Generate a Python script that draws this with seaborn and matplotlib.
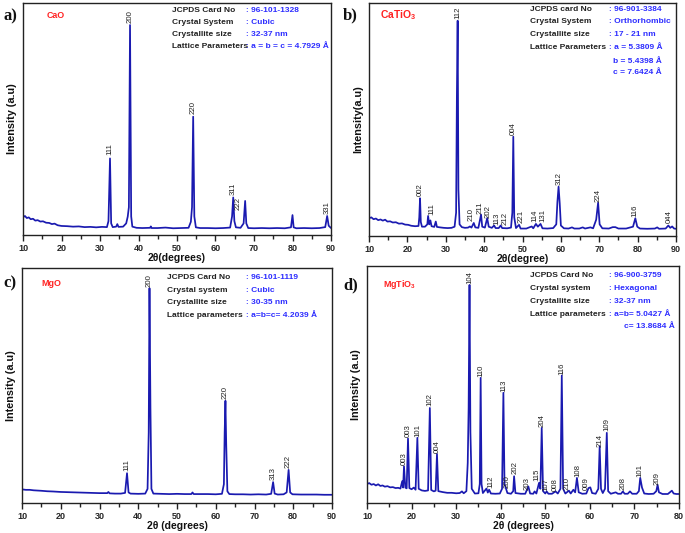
import matplotlib
matplotlib.use('Agg')
import matplotlib.pyplot as plt
import seaborn as sns
import pandas as pd
from matplotlib.ticker import MultipleLocator

sns.set_theme(style='ticks')
plt.rcParams['font.family'] = ['Liberation Sans', 'DejaVu Sans']
plt.rcParams['mathtext.fontset'] = 'custom'
plt.rcParams['mathtext.rm'] = 'Liberation Sans'
plt.rcParams['mathtext.bf'] = 'Liberation Sans:bold'

# XRD traces: (2theta, intensity in % of axis height)
cao_trace = [
    (10.0, 7.6), (10.5, 8.2), (11.0, 7.3), (11.5, 7.6), (12.0, 6.8), (12.6, 7.0), (13.2, 6.2),
    (13.8, 6.4), (14.5, 5.8), (15.2, 5.9), (16.0, 5.3), (16.8, 5.2), (17.5, 4.7), (18.2, 4.9),
    (19.0, 4.2), (20.0, 3.9), (21.5, 3.8), (23.0, 3.6), (24.5, 3.7), (26.0, 3.4), (27.5, 3.5),
    (29.0, 3.3), (30.5, 3.5), (31.8, 3.4), (32.2, 6.0), (32.6, 33.0), (32.9, 5.0), (33.3, 3.4),
    (34.2, 3.6), (34.5, 4.7), (34.8, 3.5), (36.0, 3.6), (36.8, 5.0), (37.2, 7.9), (37.5, 12.0),
    (37.8, 90.5), (38.1, 8.0), (38.4, 3.6), (39.5, 3.1), (41.0, 3.0), (43.0, 3.1), (43.2, 3.7),
    (43.4, 3.0), (45.0, 3.0), (47.0, 3.2), (49.0, 2.9), (51.0, 3.0), (53.0, 3.1), (53.6, 5.7),
    (53.9, 12.0), (54.2, 51.0), (54.5, 8.0), (54.9, 3.3), (56.0, 3.0), (58.0, 3.0), (60.0, 2.9),
    (62.0, 3.0), (63.8, 3.2), (64.3, 8.0), (64.6, 16.2), (64.9, 6.0), (65.3, 3.3), (66.5, 3.1),
    (67.3, 5.0), (67.7, 14.7), (68.0, 5.0), (68.5, 3.0), (70.0, 2.9), (72.0, 3.0), (74.0, 2.9),
    (76.0, 3.0), (78.0, 2.9), (79.6, 3.3), (80.0, 8.6), (80.3, 3.3), (81.0, 2.9), (83.0, 3.0),
    (85.0, 2.9), (87.0, 3.0), (88.5, 3.4), (89.0, 8.2), (89.4, 4.0), (90.0, 3.0),
]
catio3_trace = [
    (10.0, 7.6), (10.6, 8.0), (11.2, 7.2), (11.8, 7.5), (12.4, 6.8), (13.0, 7.1), (13.6, 6.6),
    (14.2, 7.0), (14.8, 6.2), (15.5, 6.3), (16.2, 5.8), (17.0, 5.9), (17.8, 5.3), (18.6, 5.4),
    (19.4, 4.9), (20.2, 4.8), (21.0, 4.4), (22.0, 4.2), (22.9, 4.3), (23.1, 8.0), (23.3, 16.2),
    (23.5, 6.0), (23.8, 4.0), (24.6, 4.0), (25.2, 5.0), (25.4, 8.6), (25.7, 5.0), (26.0, 6.7),
    (26.3, 4.2), (27.0, 3.9), (27.4, 6.2), (27.7, 3.9), (28.5, 3.7), (29.5, 3.5), (30.5, 3.4),
    (31.5, 3.5), (32.3, 4.0), (32.7, 10.0), (32.9, 60.0), (33.1, 92.4), (33.3, 20.0), (33.6, 5.0),
    (34.2, 3.8), (35.0, 3.5), (35.8, 3.6), (36.3, 4.1), (36.7, 3.6), (37.3, 5.6), (37.7, 3.7),
    (38.5, 3.5), (39.2, 9.2), (39.5, 4.0), (40.2, 3.6), (40.8, 7.7), (41.2, 4.0), (42.0, 3.5),
    (42.6, 4.5), (43.0, 3.4), (43.8, 3.4), (44.3, 4.5), (44.7, 3.4), (46.0, 3.3), (47.0, 3.6),
    (47.35, 10.0), (47.6, 42.6), (47.85, 8.0), (48.3, 3.4), (49.1, 4.8), (49.5, 3.2), (51.0, 3.2),
    (52.4, 4.1), (52.8, 3.3), (53.5, 5.2), (54.0, 4.0), (54.7, 5.2), (55.2, 3.3), (56.5, 3.2),
    (58.0, 3.4), (58.8, 5.0), (59.1, 14.7), (59.4, 21.2), (59.7, 14.0), (60.0, 4.5), (60.8, 3.3),
    (62.0, 3.2), (62.9, 3.7), (63.5, 3.2), (64.8, 3.2), (65.7, 3.7), (66.3, 3.2), (67.7, 3.7),
    (68.4, 3.3), (69.2, 7.0), (69.7, 14.3), (70.1, 5.0), (70.8, 3.3), (72.5, 3.2), (73.5, 3.8),
    (74.2, 3.8), (75.0, 3.2), (77.0, 3.2), (78.8, 4.0), (79.4, 7.6), (79.9, 4.0), (80.6, 3.2),
    (82.5, 3.1), (84.5, 3.2), (85.1, 3.7), (85.6, 3.1), (87.3, 3.2), (88.0, 4.5), (88.5, 3.5),
    (89.0, 4.1), (89.5, 3.2), (90.0, 3.1),
]
mgo_trace = [
    (10.0, 5.8), (11.0, 5.6), (12.0, 5.6), (13.0, 5.4), (14.0, 5.3), (15.0, 5.2), (16.5, 5.0),
    (18.0, 4.9), (20.0, 4.7), (22.0, 4.6), (24.0, 4.5), (26.0, 4.4), (28.0, 4.3), (30.0, 4.2),
    (32.0, 4.2), (32.3, 4.7), (32.6, 4.1), (34.0, 4.0), (35.5, 4.0), (36.6, 4.3), (37.1, 12.7),
    (37.5, 4.5), (38.0, 4.0), (40.0, 3.9), (41.8, 4.0), (42.4, 6.0), (42.7, 30.0), (42.9, 91.4),
    (43.15, 40.0), (43.4, 6.0), (43.9, 4.0), (46.0, 3.9), (48.0, 3.8), (50.0, 3.9), (52.0, 3.8),
    (53.7, 3.8), (54.0, 4.5), (54.3, 3.8), (56.0, 3.8), (58.0, 3.8), (60.0, 3.7), (61.6, 3.9),
    (62.1, 8.0), (62.3, 30.0), (62.5, 43.5), (62.7, 25.0), (63.0, 5.0), (63.5, 3.8), (65.0, 3.7),
    (67.0, 3.7), (69.0, 3.6), (71.0, 3.7), (73.0, 3.6), (74.3, 3.9), (74.8, 8.9), (75.2, 4.0),
    (76.0, 3.6), (77.5, 3.7), (78.3, 4.5), (78.8, 14.1), (79.2, 4.5), (79.8, 3.7), (82.0, 3.6),
    (84.0, 3.6), (86.0, 3.6), (88.0, 3.5), (90.0, 3.5),
]
mgtio3_trace = [
    (10.0, 8.0), (10.5, 8.4), (11.0, 7.7), (11.5, 8.0), (12.0, 7.4), (12.5, 7.9), (13.0, 7.2),
    (13.5, 7.4), (14.0, 6.9), (14.6, 7.1), (15.2, 6.6), (15.8, 6.7), (16.4, 6.3), (17.0, 6.4),
    (17.5, 6.1), (17.9, 9.2), (18.1, 6.5), (18.3, 15.5), (18.6, 6.5), (18.9, 6.2), (19.2, 27.2),
    (19.5, 6.3), (20.0, 5.8), (20.5, 6.5), (20.9, 5.6), (21.3, 27.5), (21.6, 6.0), (22.3, 5.3),
    (23.0, 5.1), (23.7, 5.3), (24.1, 40.1), (24.4, 5.5), (25.0, 4.9), (25.4, 5.2), (25.7, 20.7),
    (26.0, 5.0), (27.0, 4.6), (28.0, 4.3), (29.0, 4.3), (30.0, 4.1), (30.8, 4.2), (31.3, 4.9),
    (31.7, 4.1), (32.3, 5.0), (32.6, 16.9), (32.8, 40.0), (33.0, 92.0), (33.2, 30.0), (33.5, 6.0),
    (34.2, 4.0), (35.0, 4.1), (35.3, 8.0), (35.5, 52.8), (35.7, 8.0), (36.0, 4.2), (36.8, 6.1),
    (37.1, 4.4), (37.4, 5.6), (37.8, 4.0), (38.8, 3.9), (39.8, 4.0), (40.3, 6.0), (40.6, 46.5),
    (40.85, 8.0), (41.1, 6.6), (41.5, 4.2), (42.3, 3.9), (42.8, 5.0), (43.0, 11.3), (43.3, 4.2),
    (44.5, 3.9), (45.5, 3.9), (46.2, 7.0), (46.6, 4.0), (47.3, 3.9), (47.6, 4.9), (48.0, 4.0),
    (48.6, 8.5), (48.9, 6.0), (49.2, 31.7), (49.5, 5.0), (50.0, 4.0), (50.3, 4.9), (50.7, 3.9),
    (51.5, 3.9), (52.3, 4.9), (52.8, 4.0), (53.4, 6.0), (53.7, 53.8), (54.0, 6.0), (54.5, 4.0),
    (55.3, 5.2), (55.7, 4.0), (56.3, 5.6), (56.7, 4.5), (57.1, 10.6), (57.5, 4.5), (58.3, 3.9),
    (59.2, 4.0), (59.7, 6.3), (60.1, 6.6), (60.5, 4.2), (61.3, 3.9), (61.9, 6.0), (62.2, 24.0),
    (62.5, 6.0), (62.9, 4.2), (63.4, 6.0), (63.8, 29.6), (64.1, 5.0), (64.7, 3.9), (65.8, 4.5),
    (66.3, 3.9), (67.0, 3.9), (67.4, 4.9), (67.8, 3.9), (68.5, 3.9), (69.0, 4.9), (69.5, 3.9),
    (70.5, 3.9), (71.0, 5.0), (71.3, 10.6), (71.7, 6.5), (72.2, 4.0), (73.2, 3.8), (74.3, 3.9),
    (74.9, 5.0), (75.2, 7.7), (75.5, 4.5), (76.3, 3.8), (77.5, 3.8), (78.4, 5.2), (78.8, 4.0),
    (79.4, 3.8), (80.0, 3.8),
]

# hkl labels: text, 2theta where it sits, intensity of its lower end
cao_hkl = ['111', '200', '220', '311', '222', '331']
cao_hkl_x = [32.6, 37.8, 54.2, 64.6, 65.9, 89.0]
cao_hkl_y = [34.5, 91.5, 52.0, 17.3, 10.8, 9.0]

catio3_hkl = ['002', '111', '112', '210', '211', '202', '113', '212', '004', '221',
              '114', '131', '312', '224', '116', '044']
catio3_hkl_x = [23.3, 26.4, 33.1, 36.6, 38.85, 41.1, 43.35, 45.6, 47.6, 49.6,
                53.1, 55.4, 59.6, 69.7, 79.4, 88.3]
catio3_hkl_y = [17.0, 9.0, 93.0, 6.3, 9.4, 7.9, 4.6, 4.6, 43.3, 5.6,
                5.9, 5.9, 21.9, 14.8, 8.3, 5.4]

mgo_hkl = ['111', '200', '220', '313', '222']
mgo_hkl_x = [37.1, 42.9, 62.5, 74.8, 78.8]
mgo_hkl_y = [13.7, 92.0, 44.3, 9.6, 15.1]

mgtio3_hkl = ['003', '003', '101', '102', '004', '104', '110', '112', '113', '200',
              '202', '203', '115', '204', '107', '008', '116', '210', '108', '009',
              '214', '109', '208', '101', '209']
mgtio3_hkl_x = [18.3, 19.2, 21.4, 24.0, 25.7, 33.0, 35.5, 37.7, 40.6, 41.4,
                43.3, 45.9, 48.1, 49.2, 50.2, 52.3, 53.7, 55.0, 57.2, 59.3,
                62.2, 63.8, 67.4, 71.3, 75.1]
mgtio3_hkl_y = [16.0, 27.7, 28.0, 40.8, 21.2, 92.3, 53.3, 6.3, 46.9, 6.2,
                12.4, 5.4, 9.4, 32.0, 4.9, 4.9, 54.2, 5.4, 11.0, 5.4,
                23.5, 30.3, 5.4, 10.8, 7.7]

# info boxes
cao_info = ['JCPDS Card No', 'Crystal System', 'Crystallite size', 'Lattice Parameters']
cao_vals = [': 96-101-1328', ': Cubic', ': 32-37 nm', ': a = b = c = 4.7929 Å']
catio3_info = ['JCPDS card No', 'Crystal System', 'Crystallite size', 'Lattice Parameters']
catio3_vals = [': 96-901-3384', ': Orthorhombic', ': 17 - 21 nm', ': a = 5.3809 Å']
catio3_extra = ['b = 5.4398 Å', 'c = 7.6424 Å']
mgo_info = ['JCPDS Card No', 'Crystal system', 'Crystallite size', 'Lattice parameters']
mgo_vals = [': 96-101-1119', ': Cubic', ': 30-35 nm', ': a=b=c= 4.2039 Å']
mgtio3_info = ['JCPDS Card No', 'Crystal system', 'Crystallite size', 'Lattice parameters']
mgtio3_vals = [': 96-900-3759', ': Hexagonal', ': 32-37 nm', ': a=b= 5.0427 Å']
mgtio3_extra = ['c= 13.8684 Å']

LINE = '#1a1ab0'
VAL = '#2d2dff'
LAB = '#222222'

W, H = 685, 533
fig = plt.figure(figsize=(W / 100, H / 100), dpi=100)


def make_ax(left, top, right, bottom):
    return fig.add_axes([left / W, 1 - bottom / H, (right - left) / W, (bottom - top) / H])


def draw(ax, trace, hkl, hx, hy, xmax, xlabel, ylabel):
    df = pd.DataFrame(trace, columns=['two_theta', 'intensity'])
    sns.lineplot(data=df, x='two_theta', y='intensity', ax=ax, color=LINE,
                 lw=1.25, estimator=None, sort=False)
    for t, x, y in zip(hkl, hx, hy):
        ax.text(x, y, t, rotation=90, ha='center', va='bottom', fontsize=5.6, color=LAB)
    ax.set_xlim(10, xmax)
    ax.set_ylim(0, 100)
    ax.set_yticks([])
    ax.xaxis.set_major_locator(MultipleLocator(10))
    ax.xaxis.set_minor_locator(MultipleLocator(5))
    ax.tick_params(axis='x', which='major', direction='out', length=4, width=1,
                   pad=2.5, labelsize=6.5, color='#222')
    ax.tick_params(axis='x', which='minor', direction='out', length=3, width=1, color='#222')
    for lab in ax.get_xticklabels():
        lab.set_fontweight('bold')
    for s in ax.spines.values():
        s.set_visible(True)
        s.set_linewidth(1.0)
        s.set_color('#222')
    ax.set_xlabel(xlabel, fontsize=7.5, fontweight='bold', color='#111')
    ax.xaxis.label.set_va('center')
    ax.xaxis.set_label_coords(0.5, -0.097)
    ax.set_ylabel(ylabel, fontsize=7.8, fontweight='bold', color='#111')
    ax.yaxis.set_label_coords(-0.018, 0.5)


def info(ax, labels, vals, lx, vx, rows):
    for t, v, y in zip(labels, vals, rows):
        ax.text(lx, y, t, transform=ax.transAxes, fontsize=6, fontweight='bold',
                color=LAB, va='center')
        ax.text(vx, y, v, transform=ax.transAxes, fontsize=6, fontweight='bold',
                color=VAL, va='center')


ax_a = make_ax(23, 3, 331, 235)
ax_b = make_ax(369, 3, 676, 236)
ax_c = make_ax(22, 268, 332, 503)
ax_d = make_ax(367, 266, 679, 503)

draw(ax_a, cao_trace, cao_hkl, cao_hkl_x, cao_hkl_y, 90, '2θ(degrees)', 'Intensity (a.u)')
draw(ax_b, catio3_trace, catio3_hkl, catio3_hkl_x, catio3_hkl_y, 90, '2θ(degree)', 'Intensity(a.u)')
draw(ax_c, mgo_trace, mgo_hkl, mgo_hkl_x, mgo_hkl_y, 90, '2θ (degrees)', 'Intensity (a.u)')
draw(ax_d, mgtio3_trace, mgtio3_hkl, mgtio3_hkl_x, mgtio3_hkl_y, 80, '2θ (degrees)', 'Intensity (a.u)')

info(ax_a, cao_info, cao_vals, 0.484, 0.724, [0.967, 0.915, 0.865, 0.812])
info(ax_b, catio3_info, catio3_vals, 0.524, 0.783, [0.974, 0.920, 0.866, 0.811])
for t, y in zip(catio3_extra, [0.751, 0.701]):
    ax_b.text(0.796, y, t, transform=ax_b.transAxes, fontsize=6, fontweight='bold',
              color=VAL, va='center')
info(ax_c, mgo_info, mgo_vals, 0.467, 0.723, [0.960, 0.906, 0.852, 0.797])
info(ax_d, mgtio3_info, mgtio3_vals, 0.522, 0.777, [0.959, 0.906, 0.852, 0.797])
ax_d.text(0.824, 0.744, mgtio3_extra[0], transform=ax_d.transAxes, fontsize=6,
          fontweight='bold', color=VAL, va='center')

# sample names
red = '#ff2222'
ax_a.text(0.077, 0.944, 'CaO', transform=ax_a.transAxes, fontsize=6.4, fontweight='bold', color=red, va='center')
ax_b.text(0.036, 0.948, r'CaTiO$_{\mathbf{3}}$', transform=ax_b.transAxes, fontsize=7.5, fontweight='bold', color=red, va='center')
ax_c.text(0.063, 0.936, 'MgO', transform=ax_c.transAxes, fontsize=6.4, fontweight='bold', color=red, va='center')
ax_d.text(0.052, 0.920, r'MgTiO$_{\mathbf{3}}$', transform=ax_d.transAxes, fontsize=6.4, fontweight='bold', color=red, va='center')

# panel letters
for letter, x, y in [('a)', 4, 16), ('b)', 343, 15), ('c)', 3, 283), ('d)', 343, 285)]:
    fig.text(x / W, 1 - y / H, letter, family='Liberation Serif', fontweight='bold',
             fontsize=12, color='#111', va='center')

fig.savefig('out.png', dpi=100)
